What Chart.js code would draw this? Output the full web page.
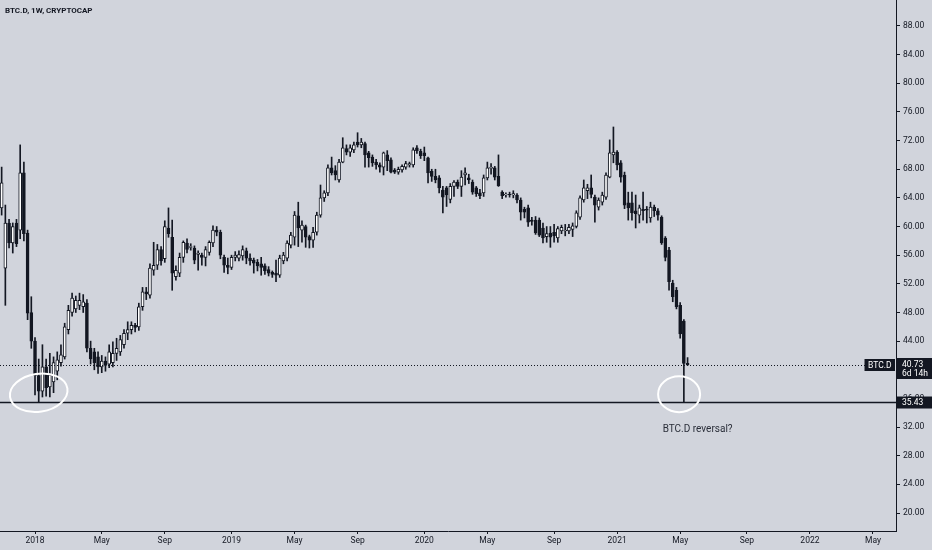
<!DOCTYPE html>
<html>
<head>
<meta charset="utf-8">
<script src="https://cdn.jsdelivr.net/npm/chart.js@4.4.1/dist/chart.umd.min.js"></script>
<style>
  html, body { margin: 0; padding: 0; background: #d1d4dc; }
  #wrap { position: relative; width: 932px; height: 550px; }
</style>
</head>
<body>
<div id="wrap"><canvas id="chart"></canvas></div>
<script>
// weekly candles, first bar is the week of 2017-10-30
const firstWeek = '2017-10-30';

const opens = [
  62.6, 54.2, 60.5, 57.7, 60.5, 59.5, 67.5, 59.1, 48.0, 44.0,
  39.2, 37.0, 40.4, 37.6, 38.3, 39.8, 41.0, 41.8, 45.6, 48.0,
  48.5, 49.0, 48.8, 49.3, 43.0, 42.5, 41.8, 40.4, 41.2, 40.8,
  41.0, 42.3, 42.5, 43.5, 45.1, 45.6, 46.2, 46.0, 48.8, 50.9,
  50.4, 53.9, 54.6, 56.8, 55.5, 59.8, 58.5, 53.0, 53.5, 55.7,
  57.7, 57.1, 57.0, 56.1, 56.0, 55.7, 56.4, 57.7, 59.5, 59.2,
  55.7, 54.6, 54.3, 55.7, 55.6, 55.9, 56.6, 55.6, 55.3, 55.0,
  54.8, 54.5, 54.0, 53.6, 53.5, 53.2, 55.2, 55.6, 57.4, 58.5,
  61.5, 59.5, 60.0, 58.6, 58.1, 59.2, 61.6, 64.0, 64.7, 68.2,
  67.8, 66.5, 69.0, 70.9, 70.4, 70.7, 71.8, 71.4, 71.6, 70.3,
  69.7, 69.0, 68.6, 68.3, 70.0, 69.3, 67.9, 67.6, 67.9, 68.3,
  68.6, 68.6, 71.0, 70.5, 70.3, 69.6, 67.7, 67.0, 66.8, 65.1,
  65.4, 63.8, 65.6, 66.2, 65.6, 67.2, 66.8, 66.2, 65.4, 64.7,
  64.7, 66.8, 68.1, 68.2, 67.0, 64.8, 64.4, 64.5, 64.4, 64.4,
  63.7, 62.4, 62.6, 60.9, 60.9, 60.9, 59.8, 58.6, 59.1, 59.2,
  58.4, 59.4, 59.4, 59.4, 59.6, 60.0, 61.3, 63.7, 65.0, 65.4,
  64.1, 62.7, 63.4, 64.1, 66.9, 70.0, 70.4, 68.9, 67.2, 63.3,
  63.3, 62.2, 61.6, 62.4, 62.4, 61.2, 62.7, 62.2, 61.3, 58.4,
  56.7, 52.1, 51.1, 49.0, 46.8, 40.9
];
const highs = [
  68.3, 63.0, 61.0, 60.5, 61.0, 71.4, 69.0, 59.5, 50.2, 44.5,
  41.5, 43.5, 41.5, 42.3, 41.8, 42.5, 43.5, 46.5, 49.0, 50.7,
  50.3, 50.7, 50.5, 49.8, 44.0, 43.0, 42.5, 42.0, 41.8, 43.5,
  43.9, 44.4, 44.8, 45.6, 46.7, 46.7, 46.5, 49.3, 51.5, 51.5,
  54.8, 57.8, 57.5, 57.2, 60.8, 62.6, 60.9, 54.5, 56.3, 58.0,
  58.3, 57.6, 57.3, 56.6, 56.3, 57.2, 58.0, 60.1, 60.0, 59.5,
  56.0, 55.6, 56.0, 56.5, 56.6, 57.3, 57.0, 56.2, 55.6, 55.4,
  55.7, 54.8, 54.4, 53.8, 55.3, 56.0, 56.4, 58.0, 59.2, 62.1,
  63.4, 60.8, 60.2, 58.8, 59.9, 62.0, 65.8, 65.0, 68.6, 69.7,
  68.5, 69.4, 72.4, 71.4, 71.4, 71.8, 73.1, 72.3, 71.8, 70.5,
  70.0, 69.4, 68.9, 70.4, 70.6, 69.6, 68.1, 68.3, 68.6, 69.1,
  69.0, 71.0, 71.3, 70.8, 71.1, 69.7, 68.0, 68.0, 67.1, 65.6,
  65.6, 66.0, 66.4, 66.5, 67.8, 68.2, 67.3, 66.5, 65.6, 65.2,
  67.2, 69.0, 68.8, 68.4, 70.0, 65.0, 64.7, 64.8, 65.0, 64.6,
  64.0, 62.7, 63.0, 61.3, 61.4, 61.2, 60.5, 60.0, 60.0, 60.3,
  60.0, 60.2, 60.3, 60.3, 60.5, 62.2, 64.3, 66.5, 65.9, 67.2,
  64.4, 64.0, 64.8, 67.5, 72.1, 73.9, 70.6, 69.2, 67.6, 64.8,
  64.8, 64.4, 63.0, 64.8, 62.8, 63.4, 63.0, 62.5, 61.5, 58.6,
  57.1, 52.5, 51.5, 49.4, 47.0, 41.7
];
const lows = [
  61.6, 49.0, 57.0, 56.3, 57.2, 58.3, 58.0, 47.0, 43.0, 36.5,
  35.43, 36.2, 36.3, 36.2, 36.8, 38.6, 40.5, 41.5, 45.0, 47.5,
  48.0, 48.4, 48.0, 42.5, 40.8, 40.0, 39.5, 39.6, 39.8, 40.3,
  40.4, 41.3, 42.0, 43.0, 44.2, 45.0, 45.3, 45.5, 48.3, 49.8,
  50.0, 53.2, 54.0, 54.6, 55.0, 58.5, 51.1, 52.5, 53.0, 55.0,
  56.3, 56.7, 54.8, 53.9, 54.6, 54.5, 56.0, 57.2, 58.7, 55.5,
  53.6, 53.4, 54.0, 55.2, 55.2, 55.3, 54.8, 54.6, 53.5, 53.8,
  53.2, 53.3, 53.1, 52.9, 52.3, 52.9, 54.8, 55.2, 57.0, 57.4,
  57.2, 57.8, 57.1, 57.0, 57.1, 58.8, 61.3, 63.5, 64.3, 67.2,
  66.5, 66.2, 68.9, 70.0, 69.8, 70.3, 71.1, 71.0, 68.3, 68.3,
  68.4, 68.0, 67.6, 67.2, 67.8, 67.5, 67.4, 67.3, 67.6, 68.0,
  68.3, 68.3, 70.2, 69.5, 69.2, 66.1, 66.3, 66.1, 64.7, 61.9,
  62.8, 63.3, 64.2, 65.3, 64.2, 65.8, 66.0, 64.5, 64.2, 63.9,
  64.2, 66.5, 67.3, 66.5, 65.6, 63.9, 64.1, 64.1, 64.0, 63.3,
  60.9, 61.2, 60.0, 60.2, 58.9, 58.6, 57.7, 57.8, 57.1, 57.8,
  57.8, 59.0, 58.7, 59.0, 58.6, 59.8, 61.0, 63.4, 63.9, 64.0,
  60.6, 62.3, 63.0, 63.8, 66.8, 68.9, 67.9, 66.2, 62.5, 60.9,
  60.9, 59.8, 60.5, 60.9, 60.5, 60.6, 61.4, 60.9, 57.5, 55.2,
  51.1, 49.5, 48.5, 44.4, 35.43, 40.6
];
const closes = [
  66.1, 60.5, 57.7, 60.0, 57.6, 67.5, 59.0, 47.9, 44.0, 39.2,
  37.0, 40.4, 37.5, 39.3, 41.0, 41.4, 42.1, 46.0, 48.3, 50.0,
  49.7, 49.7, 49.5, 43.0, 41.5, 41.0, 40.4, 41.2, 40.6, 42.5,
  42.3, 43.0, 44.2, 45.1, 45.6, 46.2, 45.9, 48.8, 50.9, 50.6,
  54.2, 54.6, 56.8, 55.2, 60.0, 59.0, 53.5, 53.9, 55.7, 57.8,
  56.8, 57.2, 55.3, 56.3, 55.7, 56.8, 57.8, 59.5, 59.2, 56.0,
  54.6, 54.3, 55.7, 56.0, 56.1, 56.8, 55.6, 55.2, 54.9, 54.5,
  54.3, 53.8, 53.5, 53.3, 53.2, 55.6, 56.0, 57.7, 58.8, 61.6,
  59.8, 60.2, 58.5, 58.1, 59.2, 61.6, 64.0, 64.7, 68.2, 67.5,
  67.2, 69.0, 71.0, 70.4, 71.0, 71.4, 71.4, 71.8, 70.0, 69.6,
  68.9, 68.6, 68.3, 70.3, 69.2, 67.6, 67.6, 68.0, 68.4, 68.8,
  68.8, 70.7, 70.6, 69.9, 69.9, 67.5, 67.0, 66.5, 65.4, 64.1,
  64.4, 65.6, 66.2, 65.6, 66.9, 67.5, 66.5, 64.8, 64.6, 64.3,
  66.8, 68.2, 68.3, 66.9, 65.7, 64.3, 64.5, 64.4, 64.6, 63.7,
  62.0, 62.0, 60.6, 60.7, 59.1, 58.8, 58.4, 59.0, 58.5, 58.7,
  59.7, 59.9, 59.5, 59.9, 60.1, 61.9, 64.0, 65.4, 65.4, 64.5,
  63.0, 63.7, 64.4, 67.2, 70.3, 70.4, 68.6, 66.9, 63.0, 62.6,
  61.9, 61.8, 62.6, 62.2, 62.3, 62.7, 62.2, 61.6, 57.7, 55.7,
  52.3, 50.2, 48.8, 45.0, 40.9, 40.73
];

const tickDates = [
  '2018-01-01', '2018-05-07', '2018-09-03', '2019-01-07', '2019-05-06', '2019-09-02', '2020-01-06',
  '2020-05-04', '2020-09-07', '2021-01-04', '2021-05-03', '2021-09-06', '2022-01-03', '2022-05-02'
];
const tickLabels = ['2018', 'May', 'Sep', '2019', 'May', 'Sep', '2020', 'May', 'Sep', '2021', 'May', 'Sep', '2022', 'May'];
const priceTicks = [20, 24, 28, 32, 36, 40, 44, 48, 52, 56, 60, 64, 68, 72, 76, 80, 84, 88];

const title = 'BTC.D, 1W, CRYPTOCAP';
const symbol = 'BTC.D';
const lastPrice = 40.73;
const countdown = '6d 14h';
const lowLevel = 35.43;
const note = 'BTC.D reversal?';

const ink = '#131722';
const F = "Roboto, 'DejaVu Sans', sans-serif";

// days since 2018-01-01
const dayOf = d => (Date.parse(d) - Date.parse('2018-01-01')) / 864e5;
const start = dayOf(firstWeek);
const weekDays = opens.map((_, i) => start + 7 * i);

const bodies = opens.map((o, i) => ({ x: weekDays[i], y: [Math.min(o, closes[i]), Math.max(o, closes[i])] }));
const wicks = opens.map((o, i) => ({ x: weekDays[i], y: [lows[i], highs[i]] }));
const bodyColors = opens.map((o, i) => closes[i] >= o ? '#ffffff' : ink);

const overlay = {
  id: 'overlay',
  afterDraw(chart) {
    const { ctx, chartArea: a, scales: { x, y } } = chart;
    const yLast = Math.round(y.getPixelForValue(lastPrice)) + 0.5;
    const yLow = y.getPixelForValue(lowLevel);
    ctx.save();

    // last price dotted line
    ctx.strokeStyle = ink;
    ctx.lineWidth = 1;
    ctx.setLineDash([1, 2]);
    ctx.beginPath();
    ctx.moveTo(a.left, yLast);
    ctx.lineTo(a.right, yLast);
    ctx.stroke();
    ctx.setLineDash([]);

    // support line
    ctx.lineWidth = 1.6;
    ctx.beginPath();
    ctx.moveTo(a.left, yLow);
    ctx.lineTo(a.right, yLow);
    ctx.stroke();

    // hand drawn circles
    ctx.strokeStyle = '#ffffff';
    ctx.lineWidth = 2;
    ctx.beginPath();
    ctx.ellipse(x.getPixelForValue(dayOf('2018-01-08')), y.getPixelForValue(36.8), 29, 19, -0.15, 0, Math.PI * 2);
    ctx.stroke();
    ctx.beginPath();
    ctx.ellipse(x.getPixelForValue(dayOf('2021-05-01')), y.getPixelForValue(36.6), 21, 18, 0, 0, Math.PI * 2);
    ctx.stroke();

    // note
    ctx.fillStyle = '#2a2e39';
    ctx.font = '10px ' + F;
    ctx.textBaseline = 'alphabetic';
    ctx.textAlign = 'left';
    ctx.fillText(note, x.getPixelForValue(dayOf('2021-03-31')), y.getPixelForValue(31.3));

    // title
    ctx.fillStyle = ink;
    ctx.font = 'bold 8px ' + F;
    ctx.textBaseline = 'middle';
    ctx.fillText(title, 5, 11);

    // symbol tag
    ctx.font = '8.5px ' + F;
    const sw = ctx.measureText(symbol).width + 7;
    ctx.fillStyle = ink;
    ctx.fillRect(a.right - sw - 1, yLast - 6.5, sw, 12);
    ctx.fillStyle = '#ffffff';
    ctx.fillText(symbol, a.right - sw + 2.5, yLast);

    // price + countdown tag
    ctx.fillStyle = ink;
    ctx.fillRect(a.right, yLast - 7.5, 932 - a.right, 21);
    ctx.fillStyle = '#ffffff';
    ctx.fillText(lastPrice.toFixed(2), a.right + 6, yLast - 0.5);
    ctx.fillText(countdown, a.right + 6, yLast + 8.5);

    // support tag
    ctx.fillStyle = ink;
    ctx.fillRect(a.right, yLow - 6, 932 - a.right, 12);
    ctx.fillStyle = '#ffffff';
    ctx.fillText(lowLevel.toFixed(2), a.right + 6, yLow);

    ctx.restore();
  }
};

new Chart(document.getElementById('chart'), {
  type: 'bar',
  data: {
    datasets: [
      {
        label: 'body',
        data: bodies,
        order: 1,
        grouped: false,
        categoryPercentage: 1,
        barPercentage: 1,
        maxBarThickness: 3,
        backgroundColor: bodyColors,
        borderColor: ink,
        borderWidth: 1,
        borderSkipped: false
      },
      {
        label: 'wick',
        data: wicks,
        order: 2,
        grouped: false,
        categoryPercentage: 1,
        barPercentage: 1,
        maxBarThickness: 1,
        backgroundColor: ink
      }
    ]
  },
  options: {
    responsive: true,
    maintainAspectRatio: false,
    animation: false,
    layout: { padding: 0 },
    plugins: {
      legend: { display: false },
      tooltip: { enabled: false }
    },
    scales: {
      x: {
        type: 'linear',
        min: -66.1,
        max: 1625.5,
        offset: false,
        grid: { display: true, drawOnChartArea: false, offset: false, tickLength: 3, color: ink },
        border: { display: true, color: ink, width: 1 },
        ticks: {
          autoSkip: false,
          maxRotation: 0,
          padding: 2,
          color: ink,
          font: { size: 8.5, family: F },
          callback: (v, i) => tickLabels[i]
        },
        afterBuildTicks: s => { s.ticks = tickDates.map(d => ({ value: dayOf(d) })); },
        afterFit: s => { s.height = 19; s.paddingLeft = 0; s.paddingRight = 0; }
      },
      y: {
        position: 'right',
        min: 17.49,
        max: 91.63,
        beginAtZero: false,
        grid: { display: true, drawOnChartArea: false, tickLength: 4, color: ink },
        border: { display: true, color: ink, width: 1 },
        ticks: {
          padding: 3,
          color: ink,
          font: { size: 8.5, family: F },
          callback: v => Number(v).toFixed(2)
        },
        afterBuildTicks: s => { s.ticks = priceTicks.map(v => ({ value: v })); },
        afterFit: s => { s.width = 36; s.paddingTop = 0; s.paddingBottom = 0; }
      }
    }
  },
  plugins: [overlay]
});
</script>
</body>
</html>
